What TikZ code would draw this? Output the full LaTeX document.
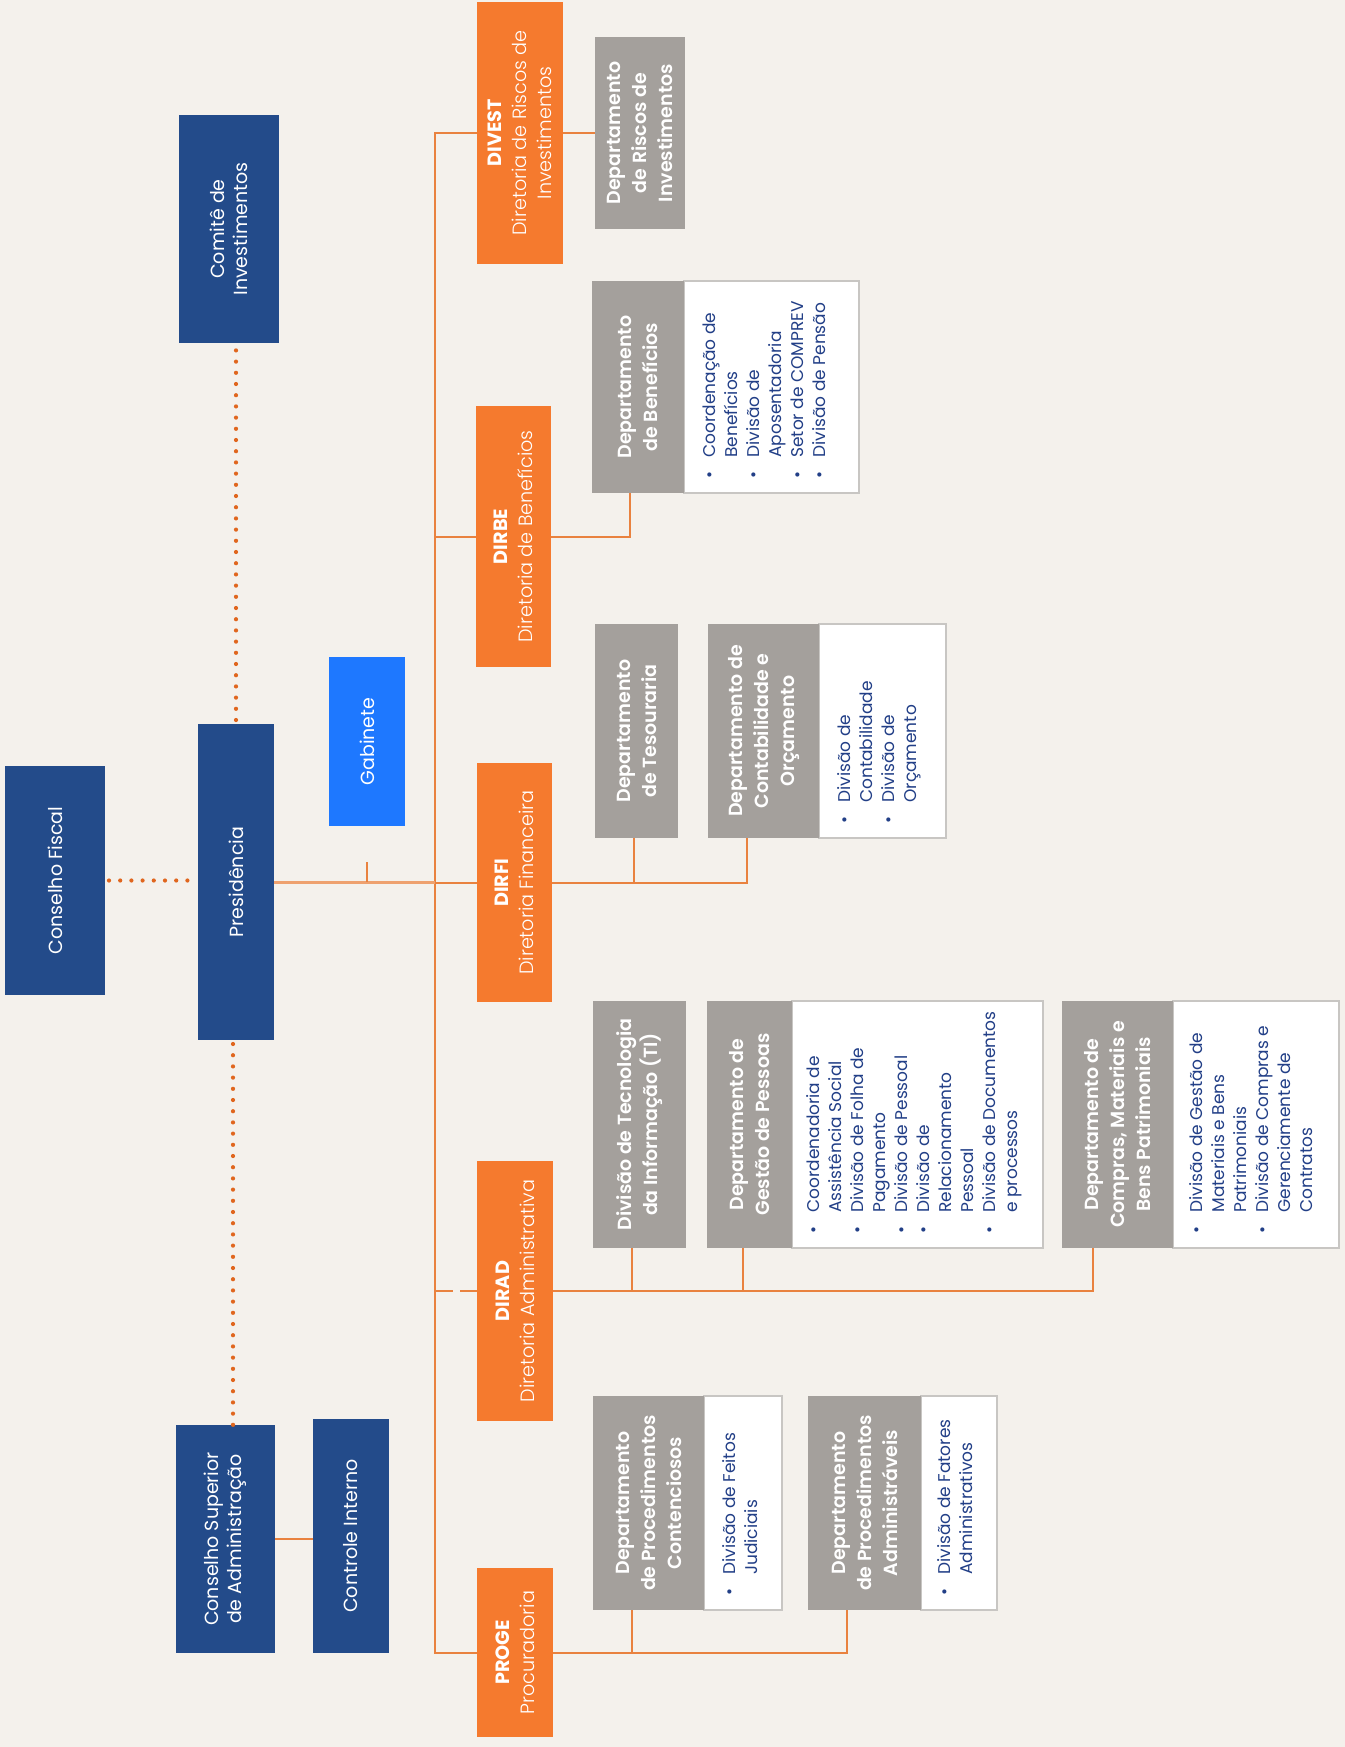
\documentclass[tikz,border=0pt]{standalone}
\usepackage{fontspec}
\setmainfont{Poppins}[BoldFont={* SemiBold}]
\newfontfamily\plight{Poppins Light}
\newfontfamily\pbold{Poppins Bold}
\definecolor{cbg}{HTML}{F4F1EC}
\definecolor{cblue}{HTML}{234B8A}
\definecolor{cgab}{HTML}{1E78FF}
\definecolor{corange}{HTML}{F57A2E}
\definecolor{cgray}{HTML}{A4A09C}
\definecolor{cborder}{HTML}{C8C6C3}
\definecolor{clist}{HTML}{223F87}
\definecolor{cline}{HTML}{E9823F}
\definecolor{cdot}{HTML}{E0661E}
\newcommand\mkbox[6]{%
  \pgfmathsetmacro\mkw{(#5-#3)*0.5}%
  \pgfmathsetmacro\mkh{(#6-#4)*0.5}%
  \node[#2, minimum width=\mkw pt, minimum height=\mkh pt] (#1) at ({(#3+#5)/2},{(#4+#6)/2}) {};%
}
\begin{document}
\begin{tikzpicture}[x=0.5pt,y=-0.5pt,
  base/.style={inner sep=0pt, outer sep=0pt, draw=none},
  bluebox/.style={base, fill=cblue},
  gabbox/.style={base, fill=cgab},
  dirbox/.style={base, fill=corange},
  graybox/.style={base, fill=cgray},
  listbox/.style={base, fill=white, draw=cborder, line width=0.6pt},
  wtxt/.style={rotate=90, text=white, align=center, font=\fontsize{9.5}{11.5}\selectfont},
  dtxt/.style={rotate=90, text=white, align=center, font=\plight\fontsize{9.6}{12.5}\selectfont},
  gtxt/.style={rotate=90, text=white, align=center, font=\bfseries\fontsize{9.5}{13}\selectfont},
  ltxt/.style={rotate=90, anchor=north west, text=clist, inner sep=0pt, font=\fontsize{8.5}{11}\selectfont},
  conn/.style={draw=cline, line width=1pt},
  dots/.style={draw=cdot, line width=2.1pt, line cap=round, dash pattern=on 0pt off 5.6pt},
]
\fill[cbg] (0,0) rectangle (1345,1747);
\useasboundingbox (0,0) rectangle (1345,1747);

% ---- boxes ----
\mkbox{cf}{bluebox}{5}{766}{105}{995}
\mkbox{pres}{bluebox}{198}{724}{274}{1040}
\mkbox{gab}{gabbox}{329}{657}{405}{826}
\mkbox{com}{bluebox}{179}{115}{279}{343}
\mkbox{csa}{bluebox}{176}{1425}{275}{1653}
\mkbox{ci}{bluebox}{313}{1419}{389}{1653}

\mkbox{divest}{dirbox}{477}{2}{563}{264}
\mkbox{dirbe}{dirbox}{476}{406}{551}{667}
\mkbox{dirfi}{dirbox}{477}{763}{552}{1002}
\mkbox{dirad}{dirbox}{477}{1161}{553}{1421}
\mkbox{proge}{dirbox}{477}{1568}{553}{1737}

\mkbox{driscos}{graybox}{595}{37}{685}{229}
\mkbox{dbenw}{listbox}{684}{281}{859}{493}
\mkbox{dben}{graybox}{592}{281}{684}{493}
\mkbox{dtes}{graybox}{595}{624}{678}{838}
\mkbox{dcontw}{listbox}{819}{624}{946}{838}
\mkbox{dcont}{graybox}{708}{624}{819}{838}
\mkbox{dti}{graybox}{593}{1001}{686}{1248}
\mkbox{dgpw}{listbox}{792}{1001}{1043}{1248}
\mkbox{dgp}{graybox}{707}{1001}{792}{1248}
\mkbox{dcmpw}{listbox}{1173}{1001}{1339}{1248}
\mkbox{dcmp}{graybox}{1062}{1001}{1173}{1248}
\mkbox{dpcw}{listbox}{704}{1396}{782}{1610}
\mkbox{dpc}{graybox}{593}{1396}{704}{1610}
\mkbox{dpaw}{listbox}{921}{1396}{997}{1610}
\mkbox{dpa}{graybox}{808}{1396}{921}{1610}

% ---- texts ----
\node[wtxt] at (cf) {Conselho Fiscal};
\node[wtxt] at (pres) {Presidência};
\node[wtxt] at (gab) {Gabinete};
\node[wtxt] at (com) {Comitê de\\Investimentos};
\node[wtxt] at (csa) {Conselho Superior\\de Administração};
\node[wtxt] at (ci) {Controle Interno};

\node[dtxt] at (divest) {{\pbold DIVEST}\\Diretoria de Riscos de\\Investimentos};
\node[dtxt] at (dirbe) {{\pbold DIRBE}\\Diretoria de Benefícios};
\node[dtxt] at (dirfi) {{\pbold DIRFI}\\Diretoria Financeira};
\node[dtxt] at (dirad) {{\pbold DIRAD}\\Diretoria Administrativa};
\node[dtxt] at (proge) {{\pbold PROGE}\\Procuradoria};

\node[gtxt] at (driscos) {Departamento\\de Riscos de\\Investimentos};
\node[gtxt] at (dben) {Departamento\\de Benefícios};
\node[gtxt] at (dtes) {Departamento\\de Tesouraria};
\node[gtxt] at (dcont) {Departamento de\\Contabilidade e\\Orçamento};
\node[gtxt] at (dti) {Divisão de Tecnologia\\da Informação (TI)};
\node[gtxt] at (dgp) {Departamento de\\Gestão de Pessoas};
\node[gtxt] at (dcmp) {Departamento de\\Compras, Materiais e\\Bens Patrimoniais};
\node[gtxt] at (dpc) {Departamento\\de Procedimentos\\Contenciosos};
\node[gtxt] at (dpa) {Departamento\\de Procedimentos\\Administráveis};

\node[ltxt] at ([xshift=8pt,yshift=7pt]dbenw.south west) {\begin{tabular}{@{}l@{\hspace{7pt}}l@{}}
•&Coordenação de\\ &Benefícios\\ •&Divisão de\\ &Aposentadoria\\ •&Setor de COMPREV\\ •&Divisão de Pensão\end{tabular}};
\node[ltxt] at ([xshift=8pt,yshift=7pt]dcontw.south west) {\begin{tabular}{@{}l@{\hspace{7pt}}l@{}}
•&Divisão de\\ &Contabilidade\\ •&Divisão de\\ &Orçamento\end{tabular}};
\node[ltxt] at ([xshift=6pt,yshift=7pt]dgpw.south west) {\begin{tabular}{@{}l@{\hspace{7pt}}l@{}}
•&Coordenadoria de\\ &Assistência Social\\ •&Divisão de Folha de\\ &Pagamento\\ •&Divisão de Pessoal\\ •&Divisão de\\ &Relacionamento\\ &Pessoal\\ •&Divisão de Documentos\\ &e processos\end{tabular}};
\node[ltxt] at ([xshift=7pt,yshift=7pt]dcmpw.south west) {\begin{tabular}{@{}l@{\hspace{7pt}}l@{}}
•&Divisão de Gestão de\\ &Materiais e Bens\\ &Patrimoniais\\ •&Divisão de Compras e\\ &Gerenciamente de\\ &Contratos\end{tabular}};
\node[ltxt] at ([xshift=8pt,yshift=7pt]dpcw.south west) {\begin{tabular}{@{}l@{\hspace{7pt}}l@{}}
•&Divisão de Feitos\\ &Judiciais\end{tabular}};
\node[ltxt] at ([xshift=7pt,yshift=7pt]dpaw.south west) {\begin{tabular}{@{}l@{\hspace{7pt}}l@{}}
•&Divisão de Fatores\\ &Administrativos\end{tabular}};

% ---- connectors ----
\coordinate (tr) at (435,0);
\draw[conn] (divest.west) -- (divest.west -| tr) -- (proge.west -| tr) -- (proge.west);
\draw[conn] (dirbe.west -| tr) -- (dirbe.west);
\draw[conn, draw=cline!75!white, line width=1.5pt] (pres.east) -- (pres.east -| tr);
\draw[conn] (dirfi.west -| tr) -- (dirfi.west);
\draw[conn, dash pattern=on 9pt off 3.5pt] (dirad.west -| tr) -- (dirad.west);
\draw[conn] ([yshift=-18pt]gab.south) -- (gab.south |- pres.east);

\draw[conn] (divest.east) -- (divest.east -| driscos.west);

\coordinate (vb) at (630,493);
\draw[conn] (dirbe.east) -| (vb);

\coordinate (vf1) at (634,838);
\coordinate (vf2) at (747,838);
\draw[conn] (dirfi.east) -- (dirfi.east -| vf2) -- (vf2);
\draw[conn] (vf1) -- (vf1 |- dirfi.east);

\coordinate (va1) at (632,1248);
\coordinate (va2) at (743,1248);
\coordinate (va3) at (1093,1248);
\draw[conn] (dirad.east) -- (dirad.east -| va3) -- (va3);
\draw[conn] (va1) -- (va1 |- dirad.east);
\draw[conn] (va2) -- (va2 |- dirad.east);

\coordinate (vp1) at (632,1610);
\coordinate (vp2) at (847,1610);
\draw[conn] (proge.east) -- (proge.east -| vp2) -- (vp2);
\draw[conn] (vp1) -- (vp1 |- proge.east);

\draw[conn] (csa.east) -- (csa.east -| ci.west);

% ---- dotted links ----
\draw[dots] ([xshift=2pt]cf.east) -- (cf.east -| pres.west);
\draw[dots] ([yshift=2pt]pres.north) -- (pres.north |- com.south);
\draw[dots] ([xshift=-1.5pt,yshift=-2pt]pres.south) -- ([xshift=-1.5pt]pres.south |- csa.north);
\end{tikzpicture}
\end{document}
